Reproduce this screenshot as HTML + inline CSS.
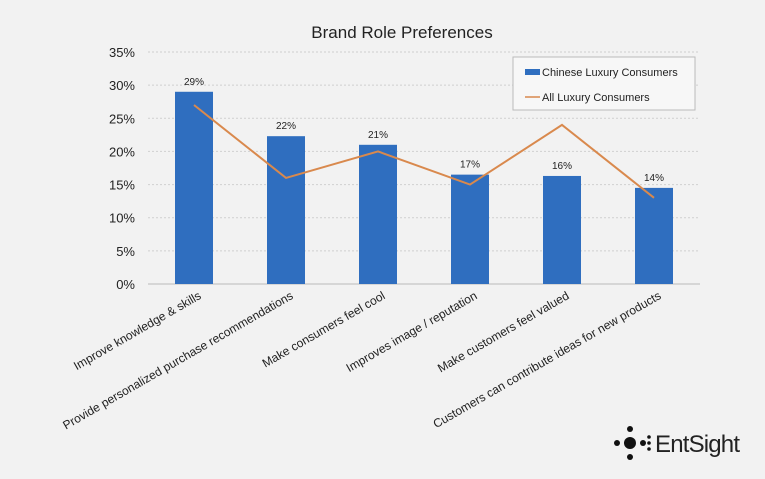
<!DOCTYPE html>
<html><head><meta charset="utf-8"><style>
body{margin:0;background:#f2f2f2;}
svg{display:block;font-family:"Liberation Sans",sans-serif;}
</style></head><body>
<svg id="c" width="765" height="479">
<rect width="765" height="479" fill="#f2f2f2"/>
<text x="402" y="38" text-anchor="middle" font-size="17" fill="#222">Brand Role Preferences</text>
<g id="grid"></g><g id="bars"></g><g id="line"></g><g id="labels"></g>
<g>
<rect x="513" y="57" width="182" height="53" fill="#f7f7f7" stroke="#bbb"/>
<rect x="525" y="69" width="15" height="6" fill="#2f6ebf"/>
<text x="542" y="76" font-size="11" fill="#222">Chinese Luxury Consumers</text>
<line x1="525" y1="97" x2="540" y2="97" stroke="#d9894d" stroke-width="1.5"/>
<text x="542" y="101" font-size="11" fill="#222">All Luxury Consumers</text>
</g>
<g fill="#111">
<circle cx="630" cy="443" r="6"/><circle cx="630" cy="429" r="3"/><circle cx="630" cy="457" r="3"/>
<circle cx="617" cy="443" r="3"/><circle cx="643" cy="443" r="3"/>
<circle cx="649" cy="437" r="1.8"/><circle cx="649" cy="449" r="1.8"/><circle cx="649" cy="443" r="1.8"/>
<text x="655" y="452" font-size="24" fill="#222" textLength="85">EntSight</text>
</g>
</svg>
<script>
const categories=["Improve knowledge & skills","Provide personalized purchase recommendations","Make consumers feel cool","Improves image / reputation","Make customers feel valued","Customers can contribute ideas for new products"];
const chineseValues=[29,22.3,21,16.5,16.3,14.5];
const barLabels=["29%","22%","21%","17%","16%","14%"];
const allValues=[27,16,20,15,24,13];
const yTicks=[0,5,10,15,20,25,30,35];
const NS="http://www.w3.org/2000/svg";
const x0=148,step=92,y0=284,yTop=52,yMax=35;
const xc=i=>x0+step*(i+0.5);
const y=v=>y0-(v/yMax)*(y0-yTop);
function mk(t,a,p){const e=document.createElementNS(NS,t);for(const k in a)e.setAttribute(k,a[k]);p.appendChild(e);return e;}
const g=document.getElementById('grid');
yTicks.forEach(v=>{
 if(v>0){const l=mk('line',{x1:x0,x2:x0+step*6,y1:y(v),y2:y(v),stroke:'#cfcfcf','stroke-dasharray':'2,2'},g);
 
 }
 const t=mk('text',{x:135,y:y(v)+5,'text-anchor':'end','font-size':13,fill:'#222'},g);
 t.textContent=v+'%';
 
 
});
const ax=mk('line',{x1:x0,x2:x0+step*6,y1:y0,y2:y0,stroke:'#bbb'},g);


const b=document.getElementById('bars');
chineseValues.forEach((v,i)=>{
 const r=mk('rect',{x:xc(i)-19,y:y(v),width:38,height:y0-y(v),fill:'#2f6ebf'},b);
 
 
 const t=mk('text',{x:xc(i),y:y(v)-7,'text-anchor':'middle','font-size':10,fill:'#222'},b);
 t.textContent=barLabels[i];
 
 
});
const pl=mk('polyline',{points:allValues.map((v,i)=>xc(i)+','+y(v)).join(' '),fill:'none',stroke:'#d9894d','stroke-width':2},document.getElementById('line'));


const lb=document.getElementById('labels');
categories.forEach((c,i)=>{
 const t=mk('text',{x:xc(i)+8,y:298,'text-anchor':'end','font-size':12,fill:'#222',transform:`rotate(-30 ${xc(i)+8} 298)`},lb);
 t.textContent=c;
 
 
});
</script>
</body></html>
